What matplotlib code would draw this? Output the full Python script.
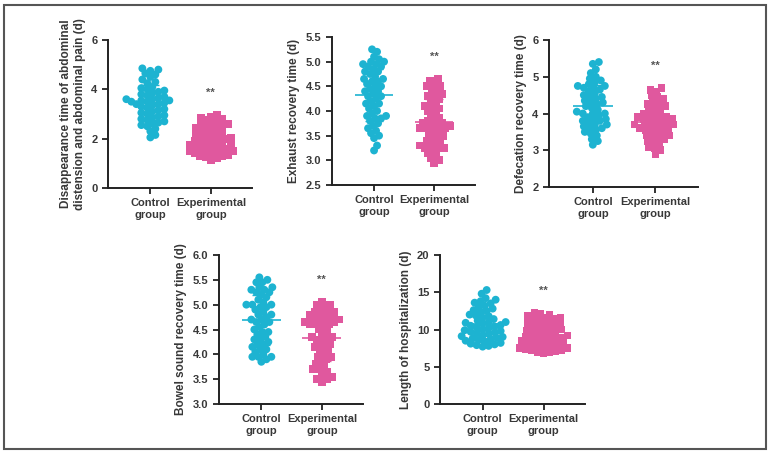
import numpy as np
import matplotlib
matplotlib.use("Agg")
import matplotlib.pyplot as plt
from matplotlib.patches import Rectangle

plt.rcParams['font.family'] = ['Liberation Sans', 'DejaVu Sans']
plt.rcParams['font.weight'] = 'bold'

cyan = '#1db3d1'
pink = '#e0589e'
txt = '#383838'

groups = ["Control\ngroup", "Experimental\ngroup"]

# 腹胀腹痛消失时间
abd_ctrl = [4.85, 4.8, 4.75, 4.65, 4.6, 4.5, 4.4, 4.3, 4.25, 4.1, 4.05, 4.0, 3.95,
            3.9, 3.85, 3.8, 3.75, 3.7, 3.65, 3.6, 3.6, 3.55, 3.55, 3.5, 3.5, 3.45,
            3.4, 3.4, 3.35, 3.3, 3.25, 3.2, 3.15, 3.1, 3.05, 3.0, 2.95, 2.9, 2.85,
            2.8, 2.75, 2.7, 2.65, 2.6, 2.55, 2.5, 2.4, 2.3, 2.15, 2.05]
abd_exp = [2.95, 2.9, 2.85, 2.8, 2.75, 2.7, 2.65, 2.6, 2.55, 2.5, 2.45, 2.4, 2.35,
           2.3, 2.25, 2.2, 2.15, 2.1, 2.05, 2.0, 2.0, 1.95, 1.9, 1.9, 1.85, 1.8,
           1.8, 1.75, 1.7, 1.65, 1.65, 1.6, 1.6, 1.55, 1.5, 1.5, 1.45, 1.4, 1.4,
           1.35, 1.3, 1.3, 1.25, 1.2, 1.15, 2.6, 2.2, 1.75, 1.5, 2.45]

# 排气恢复时间
exh_ctrl = [5.25, 5.2, 5.1, 5.0, 5.0, 4.95, 4.9, 4.85, 4.8, 4.8, 4.75, 4.7, 4.65,
            4.65, 4.6, 4.55, 4.5, 4.5, 4.45, 4.4, 4.4, 4.35, 4.3, 4.3, 4.25, 4.2,
            4.15, 4.1, 4.05, 4.0, 3.95, 3.9, 3.85, 3.85, 3.8, 3.75, 3.7, 3.65, 3.6,
            3.55, 3.5, 3.45, 4.9, 5.05, 3.3, 3.2, 4.95, 4.6, 4.15, 3.9]
exh_exp = [4.65, 4.6, 4.55, 4.5, 4.45, 4.4, 4.35, 4.3, 4.25, 4.2, 4.15, 4.1, 4.05,
           4.0, 3.95, 3.9, 3.85, 3.8, 3.75, 3.75, 3.7, 3.7, 3.7, 3.65, 3.65, 3.65,
           3.6, 3.6, 3.55, 3.5, 3.45, 3.4, 3.35, 3.3, 3.3, 3.25, 3.25, 3.2, 3.15,
           3.1, 3.05, 3.0, 2.95, 4.5, 4.3, 3.8, 3.5, 3.4, 3.25, 4.05]

# 排便恢复时间
def_ctrl = [5.4, 5.35, 5.2, 5.1, 5.0, 4.95, 4.9, 4.85, 4.8, 4.75, 4.75, 4.7, 4.65,
            4.6, 4.55, 4.5, 4.45, 4.4, 4.35, 4.3, 4.3, 4.25, 4.2, 4.15, 4.1, 4.05,
            4.0, 4.0, 3.95, 3.9, 3.85, 3.8, 3.8, 3.75, 3.7, 3.7, 3.65, 3.6, 3.6,
            3.55, 3.5, 3.45, 3.4, 3.3, 3.25, 3.15, 4.7, 4.45, 4.0, 3.85]
def_exp = [4.7, 4.65, 4.6, 4.5, 4.45, 4.4, 4.35, 4.3, 4.25, 4.2, 4.15, 4.1, 4.05,
           4.0, 4.0, 3.95, 3.9, 3.9, 3.85, 3.8, 3.8, 3.75, 3.75, 3.7, 3.7, 3.65,
           3.65, 3.6, 3.6, 3.55, 3.5, 3.5, 3.45, 3.4, 3.35, 3.3, 3.3, 3.25, 3.2,
           3.15, 3.1, 3.05, 3.0, 2.9, 3.9, 3.7, 3.6, 3.4, 4.2, 3.85]

# 肠鸣音恢复时间
bow_ctrl = [5.55, 5.5, 5.45, 5.45, 5.35, 5.35, 5.3, 5.25, 5.25, 5.2, 5.15, 5.1,
            5.05, 5.0, 5.0, 4.95, 4.95, 4.9, 4.85, 4.8, 4.75, 4.7, 4.7, 4.65, 4.6,
            4.55, 4.5, 4.45, 4.4, 4.35, 4.3, 4.3, 4.25, 4.2, 4.15, 4.1, 4.1, 4.05,
            4.0, 3.95, 3.95, 3.9, 3.85, 5.3, 5.0, 4.65, 4.45, 4.2, 3.95, 4.8]
bow_exp = [5.05, 5.0, 5.0, 4.95, 4.9, 4.85, 4.85, 4.8, 4.75, 4.75, 4.7, 4.7, 4.65,
           4.65, 4.6, 4.6, 4.55, 4.5, 4.45, 4.4, 4.35, 4.3, 4.3, 4.25, 4.2, 4.15,
           4.1, 4.05, 4.0, 3.95, 3.9, 3.85, 3.8, 3.75, 3.7, 3.65, 3.6, 3.55, 3.5,
           3.45, 4.85, 4.7, 4.6, 4.35, 4.15, 3.95, 3.7, 3.5, 4.8, 4.65]

# 住院时间
hos_ctrl = [15.3, 14.8, 14.2, 14.0, 13.6, 13.5, 13.2, 13.0, 12.8, 12.5, 12.3, 12.0,
            11.8, 11.6, 11.4, 11.2, 11.0, 10.8, 10.6, 10.5, 10.3, 10.2, 10.0, 9.9,
            9.8, 9.6, 9.5, 9.4, 9.2, 9.0, 8.9, 8.8, 8.6, 8.5, 8.4, 8.2, 8.0, 7.9,
            7.8, 7.7, 13.8, 12.6, 11.9, 11.0, 10.4, 9.7, 9.1, 8.7, 8.1, 10.9]
hos_exp = [12.2, 12.1, 11.9, 11.8, 11.6, 11.5, 11.3, 11.2, 11.0, 10.9, 10.8, 10.6,
           10.5, 10.3, 10.2, 10.0, 9.9, 9.8, 9.6, 9.5, 9.4, 9.2, 9.1, 9.0, 8.9, 8.8,
           8.6, 8.5, 8.4, 8.3, 8.2, 8.0, 7.9, 7.8, 7.7, 7.6, 7.5, 7.4, 7.3, 7.2,
           7.1, 7.0, 6.9, 11.4, 10.7, 9.7, 8.7, 8.1, 7.5, 7.0]

panels = [
    (abd_ctrl, abd_exp, "Disappearance time of abdominal\ndistension and abdominal pain (d)",
     [0, 6], [0, 2, 4, 6], "{:.0f}"),
    (exh_ctrl, exh_exp, "Exhaust recovery time (d)",
     [2.5, 5.5], [2.5, 3.0, 3.5, 4.0, 4.5, 5.0, 5.5], "{:.1f}"),
    (def_ctrl, def_exp, "Defecation recovery time (d)",
     [2, 6], [2, 3, 4, 5, 6], "{:.0f}"),
    (bow_ctrl, bow_exp, "Bowel sound recovery time (d)",
     [3, 6], [3.0, 3.5, 4.0, 4.5, 5.0, 5.5, 6.0], "{:.1f}"),
    (hos_ctrl, hos_exp, "Length of hospitalization (d)",
     [0, 20], [0, 5, 10, 15, 20], "{:.0f}"),
]

# axes rectangles in pixels (left, top, right, bottom)
W, H = 769, 454
boxes = [(108, 40, 252, 188), (332, 37, 475, 185), (549, 40, 698, 187),
         (219, 255, 363, 404), (440, 255, 585, 404)]
XLIM = (-0.7, 1.68)


def beeswarm(vals, ypx, xpx, mind=5.5):
    # simple beeswarm in pixel space, returns x offsets in data units
    y = np.asarray(vals, dtype=float) * ypx
    order = np.argsort(y)
    placed = []
    off = np.zeros(len(y))
    cands = [0.0]
    for k in range(1, 40):
        cands += [k * 1.0, -k * 1.0]
    for i in order:
        for c in cands:
            ok = True
            for (px, py) in placed:
                if (px - c) ** 2 + (py - y[i]) ** 2 < mind ** 2:
                    ok = False
                    break
            if ok:
                break
        placed.append((c, y[i]))
        off[i] = c / xpx
    return off


fig = plt.figure(figsize=(W / 100, H / 100), dpi=100)
fig.patches.append(Rectangle((4 / W, 5 / H), (766 - 4) / W, (449 - 5) / H,
                             transform=fig.transFigure, fill=False,
                             edgecolor='#555555', lw=1.5))

for (ctrl, exp, ylab, ylim, yt, fmt), (l, t, r, b) in zip(panels, boxes):
    ax = fig.add_axes([l / W, (H - b) / H, (r - l) / W, (b - t) / H])
    rng = ylim[1] - ylim[0]
    ypx = (b - t) / rng
    xpx = (r - l) / (XLIM[1] - XLIM[0])
    for pos, vals, col, mk in [(0, ctrl, cyan, 'o'), (1, exp, pink, 's')]:
        xs = pos + beeswarm(vals, ypx, xpx)
        ax.scatter(xs, vals, s=32, marker=mk, color=col, edgecolors='none',
                   zorder=2, clip_on=False)
        m, sd = np.mean(vals), np.std(vals)
        ax.hlines(m, pos - 0.32, pos + 0.32, color=col, lw=1.2, zorder=3)
        ax.hlines([m - sd, m + sd], pos - 0.15, pos + 0.15, color=col, lw=1.0, zorder=3)
        ax.vlines(pos, m - sd, m + sd, color=col, lw=1.0, zorder=3)
    ax.text(1, max(exp) + rng * 0.15, "**", ha='center', va='center',
            fontsize=8, color='#555555')
    ax.set_xlim(XLIM)
    ax.set_ylim(ylim)
    ax.set_yticks(yt)
    ax.set_yticklabels([fmt.format(v) for v in yt])
    ax.set_xticks([0, 1])
    ax.set_xticklabels(groups)
    ax.set_ylabel(ylab, fontsize=8.5, color=txt, fontweight='bold', labelpad=4)
    ax.tick_params(axis='both', labelsize=8, colors='#222222', labelcolor=txt,
                   width=1.3, length=4)
    for s in ['top', 'right']:
        ax.spines[s].set_visible(False)
    for s in ['left', 'bottom']:
        ax.spines[s].set_linewidth(1.4)
        ax.spines[s].set_color('#222222')

plt.savefig("out.png", dpi=100)
